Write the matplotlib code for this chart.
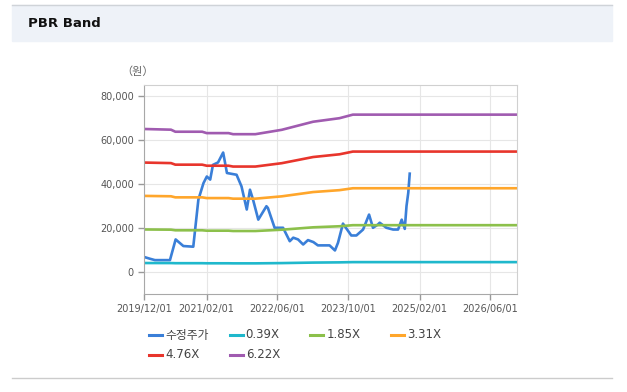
import pandas as pd
import matplotlib.pyplot as plt
import matplotlib.dates as mdates
from matplotlib.patches import Rectangle
from matplotlib.lines import Line2D

plt.rcParams['font.family'] = ['DejaVu Sans', 'Noto Sans CJK KR']

# adjusted price (수정주가)
price_dates = ['2019-12-01', '2020-01-10', '2020-02-12', '2020-05-25', '2020-07-03',
               '2020-08-25', '2020-11-01', '2020-12-06', '2021-01-10', '2021-02-02',
               '2021-02-25', '2021-03-16', '2021-04-20', '2021-05-25', '2021-06-20',
               '2021-08-25', '2021-09-28', '2021-11-03', '2021-11-25', '2021-12-16',
               '2022-01-21', '2022-03-18', '2022-03-28', '2022-05-13', '2022-07-10',
               '2022-08-25', '2022-09-18', '2022-10-21', '2022-11-25', '2022-12-28',
               '2023-02-03', '2023-03-06', '2023-05-25', '2023-07-01', '2023-07-22',
               '2023-08-25', '2023-10-21', '2023-11-25', '2024-01-10', '2024-02-20',
               '2024-03-18', '2024-04-21', '2024-05-03', '2024-06-18', '2024-08-03',
               '2024-09-06', '2024-10-01', '2024-10-22', '2024-11-03', '2024-11-15',
               '2024-11-25']
price = [6800, 6000, 5400, 5400, 14800,
         11800, 11500, 32900, 40400, 43400,
         42000, 48700, 49800, 54300, 45000,
         44200, 38900, 28400, 37400, 32900,
         23800, 29900, 29100, 20100, 20100,
         14000, 15600, 14800, 12500, 14500,
         13600, 12100, 12100, 9800, 13300,
         22000, 16600, 16600, 19300, 26100,
         20100, 21600, 22400, 20100, 19300,
         19300, 23800, 19600, 30000, 36000,
         44700]

# PBR band lines
band_dates = ['2019-12-01', '2020-06-01', '2020-07-01', '2021-01-01', '2021-02-01',
              '2021-07-01', '2021-08-01', '2022-01-01', '2022-07-01', '2023-02-01',
              '2023-08-01', '2023-11-01', '2026-12-01']
band_039 = [4080, 4060, 4000, 4000, 3960, 3960, 3930, 3930, 4050, 4280, 4380, 4490, 4490]
band_185 = [19330, 19240, 18960, 18960, 18780, 18780, 18630, 18630, 19220, 20310, 20790, 21280, 21280]
band_331 = [34590, 34420, 33930, 33930, 33600, 33600, 33330, 33330, 34390, 36340, 37200, 38070, 38070]
band_476 = [49740, 49500, 48790, 48790, 48310, 48310, 47930, 47930, 49460, 52260, 53500, 54740, 54740]
band_622 = [65000, 64690, 63760, 63760, 63130, 63130, 62640, 62640, 64630, 68300, 69910, 71530, 71530]

labels = ['수정주가', '0.39X', '1.85X', '3.31X', '4.76X', '6.22X']
colors = ['#3a7fd8', '#1fb8cc', '#8cc04b', '#ffa62b', '#e8352c', '#a05bb0']

x_ticks = ['2019/12/01', '2021/02/01', '2022/06/01', '2023/10/01', '2025/02/01', '2026/06/01']
y_ticks = [0, 20000, 40000, 60000, 80000]

W, H = 627, 392
fig = plt.figure(figsize=(W / 100, H / 100), dpi=100)

# header band
fig.patches.append(Rectangle((12 / W, 1 - 41 / H), 600 / W, 36 / H,
                             transform=fig.transFigure, color='#eef2f8', zorder=0))
fig.lines.append(Line2D([12 / W, 612 / W], [1 - 5 / H, 1 - 5 / H],
                        transform=fig.transFigure, color='#cfd3d8', lw=1))
fig.lines.append(Line2D([12 / W, 612 / W], [1 - 378 / H, 1 - 378 / H],
                        transform=fig.transFigure, color='#cccccc', lw=1))
fig.text(28 / W, 1 - 23.5 / H, 'PBR Band', fontsize=9.5, fontweight='bold',
         va='center', ha='left', color='#111111')

ax = fig.add_axes([144.3 / W, 1 - 294 / H, (517 - 144.3) / W, (294 - 85) / H])

pd_price = pd.to_datetime(price_dates)
pd_band = pd.to_datetime(band_dates)
series = [band_039, band_185, band_331, band_476, band_622]

ax.plot(pd_price, price, color=colors[0], lw=1.9, solid_joinstyle='round')
for vals, c in zip(series, colors[1:]):
    ax.plot(pd_band, vals, color=c, lw=1.9)

ax.set_xlim(pd.Timestamp('2019-12-01'), pd.Timestamp('2026-12-01'))
ax.set_ylim(-10000, 85000)
ax.set_xticks(pd.to_datetime(x_ticks))
ax.xaxis.set_major_formatter(mdates.DateFormatter('%Y/%m/%d'))
ax.set_yticks(y_ticks)
ax.set_yticklabels(['{:,}'.format(v) for v in y_ticks])
ax.tick_params(axis='both', labelsize=7, colors='#999999', labelcolor='#555555',
               length=4, width=1)
ax.grid(True, color='#e6e6e6', lw=0.8)
ax.set_axisbelow(True)
for s in ['left', 'bottom']:
    ax.spines[s].set_color('#a8a8a8')
for s in ['top', 'right']:
    ax.spines[s].set_color('#d0d0d0')

fig.text(138 / W, 1 - 72 / H, '（원）', fontsize=8, color='#666666', ha='center', va='center')

# legend, laid out like the original (4 per row)
for i, (lab, c) in enumerate(zip(labels, colors)):
    col, row = i % 4, i // 4
    x0 = 149 + col * 80.7
    y0 = 1 - (335 + row * 20) / H
    fig.lines.append(Line2D([x0 / W, (x0 + 13) / W], [y0, y0], transform=fig.transFigure,
                            color=c, lw=2.2))
    fig.text((x0 + 16) / W, y0, lab, fontsize=8.5, color='#444444', va='center', ha='left')

fig.savefig('out.png', dpi=100)
